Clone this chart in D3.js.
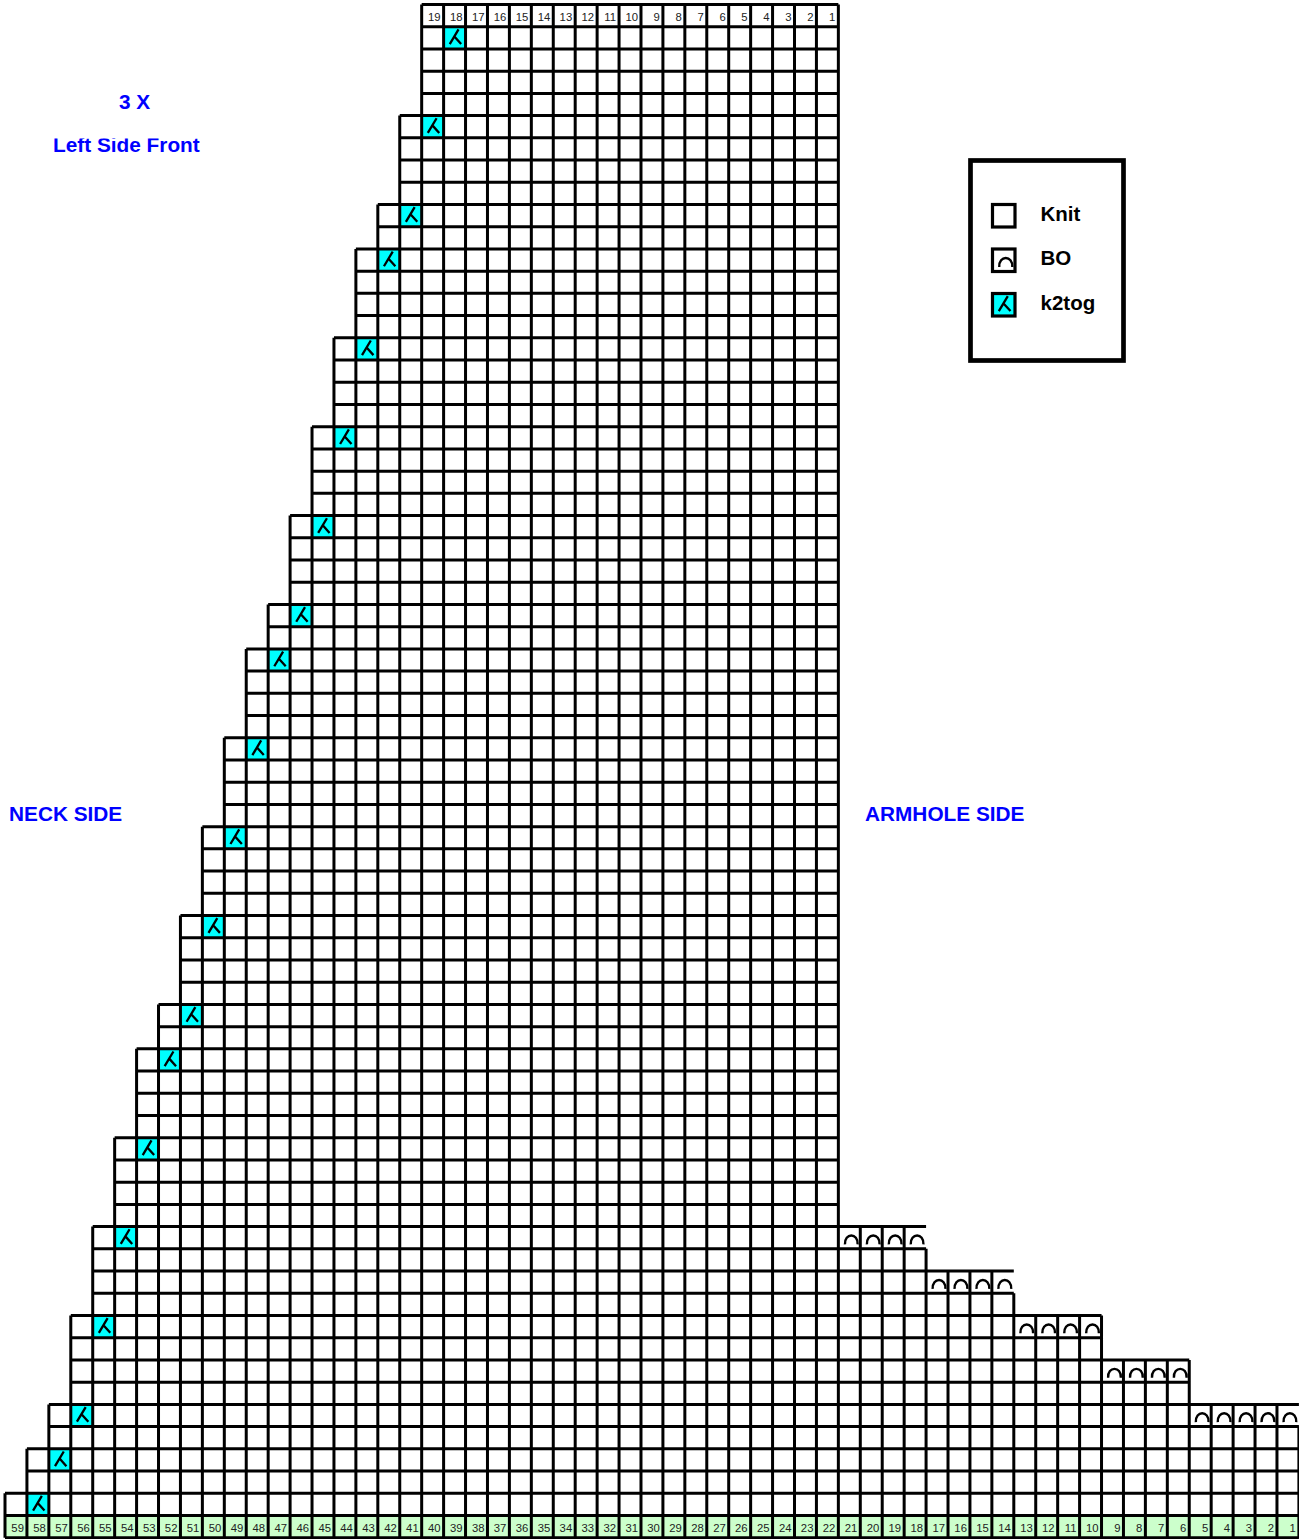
<!DOCTYPE html>
<html><head><meta charset="utf-8">
<style>html,body{margin:0;padding:0;background:#fff;overflow:hidden}svg{display:block}text{font-family:"Liberation Sans",Arial,sans-serif}</style>
<script src="https://cdn.jsdelivr.net/npm/d3@7/dist/d3.min.js"></script>
</head><body>
<script>
const topLabels = d3.range(19, 0, -1);
const bottomLabels = d3.range(59, 0, -1);
// [first row, left-most column index] of each step on the neck side
const neckSteps = [[1,19],[5,18],[9,17],[11,16],[15,15],[19,14],[23,13],[27,12],[29,11],[33,10],[37,9],[41,8],[45,7],[47,6],[51,5],[55,4],[59,3],[63,2],[65,1],[67,0]];
// [first row, right-most column index] of each step on the armhole side
const armSteps = [[0,37],[55,41],[57,45],[59,49],[61,53],[63,58]];
// bind-off rows: row, first col, last col, closed right side
const boRows = [[55,38,41,false],[57,42,45,false],[59,46,49,true],[61,50,53,true],[63,54,58,false]];
const k2togRows = neckSteps.map(d => d[0]);
const labels = [
 {t:"3 X", x:119, y:109, clip:false},
 {t:"Left Side Front", x:53, y:152, clip:true},
 {t:"NECK SIDE", x:9, y:821},
 {t:"ARMHOLE SIDE", x:865, y:821}
];
const legendItems = ["Knit","BO","k2tog"];

const W=1299,H=1539,nCols=59,nRows=69;
const x=d3.scaleLinear().domain([0,nCols]).range([5,1298.9]);
const y=d3.scaleLinear().domain([0,nRows]).range([4.5,1537.7]);
const cw=x(1)-x(0), ch=y(1)-y(0);
const svg=d3.select("body").append("svg").attr("width",W).attr("height",H);

const leftOf=r=>{ if(r===0) return 19; if(r===68) return 0; let v=19; neckSteps.forEach(s=>{if(r>=s[0]) v=s[1];}); return v; };
const rightOf=r=>{ let v=37; armSteps.forEach(s=>{if(r>=s[0]) v=s[1];}); return v; };

const rows=d3.range(nRows);
// fills
svg.append("g").selectAll("rect").data(rows.filter(r=>r===68)).join("rect")
  .attr("x",x(0)).attr("y",d=>y(d)).attr("width",x(nCols)-x(0)).attr("height",ch).attr("fill","#ccffcc");
svg.append("g").selectAll("rect").data(k2togRows).join("rect")
  .attr("x",r=>x(leftOf(r)+1)).attr("y",r=>y(r)).attr("width",cw).attr("height",ch).attr("fill","#00ffff");

// grid
const p=d3.path();
rows.forEach(r=>{
  const L=leftOf(r),R=rightOf(r);
  p.moveTo(x(L),y(r)); p.lineTo(x(R+1),y(r));
  p.moveTo(x(L),y(r+1)); p.lineTo(x(R+1),y(r+1));
  const bo=boRows.find(b=>b[0]===r);
  for(let c=L;c<=R+1;c++){
    if(c===R+1 && bo && !bo[3]) continue;
    p.moveTo(x(c),y(r)); p.lineTo(x(c),y(r+1));
  }
});
svg.append("path").attr("d",p.toString()).attr("fill","none").attr("stroke","#000").attr("stroke-width",3);

// glyphs
const k2tog=(g,w,h)=>{const q=d3.path();q.moveTo(.68*w,.12*h);q.lineTo(.28*w,.78*h);q.moveTo(.49*w,.44*h);q.lineTo(.8*w,.78*h);
  g.append("path").attr("d",q.toString()).attr("fill","none").attr("stroke","#000").attr("stroke-width",2.3);};
const bo=(g,w,h)=>{const q=d3.path();q.moveTo(.3*w,.8*h);q.bezierCurveTo(.27*w,.27*h,.91*w,.27*h,.88*w,.8*h);
  g.append("path").attr("d",q.toString()).attr("fill","none").attr("stroke","#000").attr("stroke-width",2.4);};
k2togRows.forEach(r=>k2tog(svg.append("g").attr("transform",`translate(${x(leftOf(r)+1)},${y(r)})`),cw,ch));
boRows.forEach(b=>d3.range(b[1],b[2]+1).forEach(c=>bo(svg.append("g").attr("transform",`translate(${x(c)},${y(b[0])})`),cw,ch)));

// column numbers
const num=(arr,first,row)=>svg.append("g").selectAll("text").data(arr).join("text")
  .attr("x",(d,i)=>x(first+i+1)-3).attr("y",y(row)+ch/2+5).attr("text-anchor","end").attr("font-size",11.3).attr("fill","#222").text(d=>d);
num(topLabels,19,0);
num(bottomLabels,0,68);

// titles
svg.append("clipPath").attr("id","lf").append("rect").attr("x",0).attr("y",138.6).attr("width",300).attr("height",30);
svg.append("g").selectAll("text").data(labels).join("text")
  .attr("x",d=>d.x).attr("y",d=>d.y).attr("font-size",20.8).attr("font-weight",700).attr("fill","#0000ff")
  .attr("clip-path",d=>d.clip?"url(#lf)":null).text(d=>d.t);

// legend
svg.append("rect").attr("x",970.5).attr("y",160.5).attr("width",153).attr("height",200).attr("fill","none").attr("stroke","#000").attr("stroke-width",4.7);
const legY=d3.scalePoint().domain(legendItems).range([204.5,293.5]);
legendItems.forEach((d,i)=>{
  const g=svg.append("g").attr("transform",`translate(992.5,${legY(d)})`);
  g.append("rect").attr("width",22.5).attr("height",22.5).attr("fill",i===2?"#00ffff":"#fff").attr("stroke","#000").attr("stroke-width",3.2);
  if(i===1) bo(g,22.5,22.5);
  if(i===2) k2tog(g,22.5,22.5);
  svg.append("text").attr("x",1040.5).attr("y",legY(d)+(i===1?15.8:16.5)).attr("font-size",20.5).attr("font-weight",700).attr("fill","#000").text(d);
});
</script>
</body></html>
